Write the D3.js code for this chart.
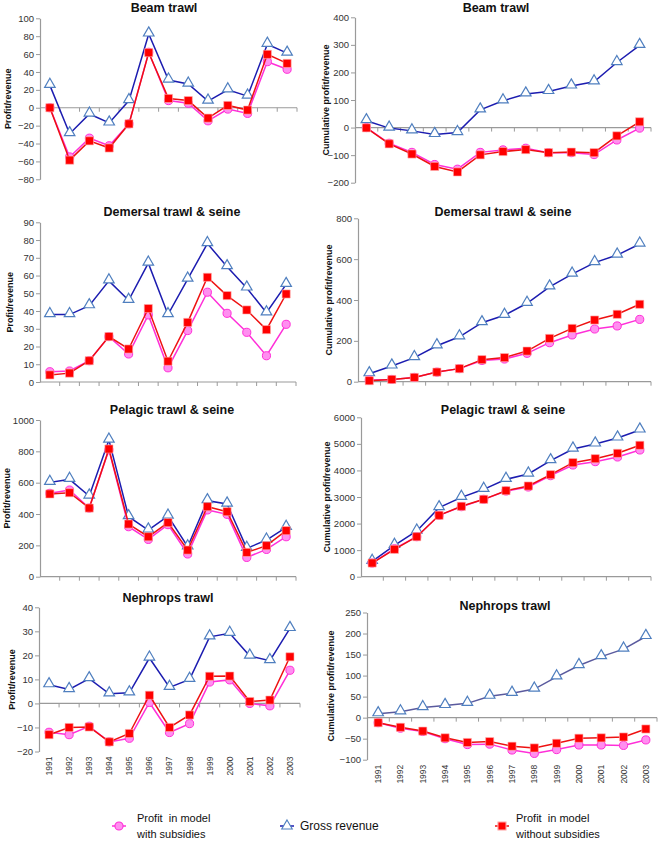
<!DOCTYPE html>
<html>
<head>
<meta charset="utf-8">
<script src="https://cdn.jsdelivr.net/npm/d3@7/dist/d3.min.js"></script>
<style>
  html, body { margin: 0; padding: 0; background: #fff; }
  svg { display: block; font-family: "Liberation Sans", Arial, sans-serif; }
  .leg text { white-space: pre; }
</style>
</head>
<body>
<svg id="chart" width="662" height="845"></svg>
<script>
// ---------------- DATA ----------------
const years = ["1991","1992","1993","1994","1995","1996","1997","1998","1999","2000","2001","2002","2003"];

const beamAnnualWith    = [0, -55, -34, -42.5, -18, 62, 8, 5, -14.6, -1.5, -6.3, 51.5, 43];
const beamAnnualGross   = [25, -29, -7, -17, 8, 82.5, 31, 26.5, 7.5, 20, 13, 71, 61];
const beamAnnualWithout = [0, -58.6, -37, -45, -18, 61.6, 10.4, 8, -11.6, 2.6, -2.6, 59.7, 49.6];

const beamCumWith    = [0, -57, -90, -134, -151, -90, -81, -75, -91, -91, -98, -45, -2];
const beamCumGross   = [25, -2, -12, -25, -18, 64, 97, 122, 131, 151, 166, 236, 298];
const beamCumWithout = [-1, -59, -96, -141, -161, -99, -87, -80, -91, -89, -91, -30, 21];

const demAnnualWith    = [5.8, 6.2, 12, 25.6, 15.8, 37.8, 8, 29, 50.6, 38.7, 28, 14.8, 32.5];
const demAnnualGross   = [38, 38, 43, 57, 46, 67, 38, 58, 78, 65, 53, 39, 55];
const demAnnualWithout = [4, 5, 12, 25.6, 18.6, 41.4, 11.7, 33.6, 59, 48.7, 40.6, 29.5, 49.6];

const demCumWith    = [8, 11, 21, 47, 64, 104, 111, 139, 191, 229, 258, 273, 305];
const demCumGross   = [39, 77, 118, 176, 220, 289, 325, 384, 464, 527, 583, 620, 674];
const demCumWithout = [5, 11, 21, 47, 64, 108, 118, 150, 212, 261, 302, 330, 379];

const pelAnnualWith    = [532, 553, 438, 810, 319, 238, 332, 145, 426, 398, 123, 174, 255];
const pelAnnualGross   = [602, 621, 515, 872, 383, 298, 387, 191, 485, 464, 181, 234, 315];
const pelAnnualWithout = [528, 536, 438, 815, 336, 255, 345, 170, 447, 415, 155, 198, 294];

const pelCumWith    = [515, 1054, 1506, 2310, 2636, 2912, 3226, 3377, 3803, 4205, 4331, 4506, 4770];
const pelCumGross   = [578, 1180, 1720, 2598, 2987, 3289, 3665, 3866, 4368, 4807, 4996, 5222, 5523];
const pelCumWithout = [515, 1030, 1506, 2310, 2649, 2912, 3238, 3414, 3841, 4293, 4443, 4644, 4946];

const nepAnnualWith    = [-12, -13, -9.5, -16, -14.5, 0.4, -12.1, -8.4, 8.9, 9.8, 0, -1, 13.8];
const nepAnnualGross   = [7.8, 5.8, 10.3, 4, 4.4, 18.9, 6.7, 10, 27.7, 29.2, 19.7, 17.8, 31.2];
const nepAnnualWithout = [-13, -10, -9.8, -16, -12.5, 3.4, -10, -4.8, 11.3, 11.4, 0.8, 1.4, 19.4];

const nepCumWith    = [-12, -25, -33, -50, -64, -63, -77, -85, -76, -65, -65, -66, -53];
const nepCumGross   = [9.4, 14, 24, 29, 34, 51, 58, 68, 97, 124, 145, 163, 193];
const nepCumWithout = [-12, -23, -32, -48, -59, -57, -68, -72, -61, -49, -48, -46, -27];

const beamAnnualTicks = [-80, -60, -40, -20, 0, 20, 40, 60, 80, 100];
const beamCumTicks    = [-200, -100, 0, 100, 200, 300, 400];
const demAnnualTicks  = [0, 10, 20, 30, 40, 50, 60, 70, 80, 90];
const demCumTicks     = [0, 200, 400, 600, 800];
const pelAnnualTicks  = [0, 200, 400, 600, 800, 1000];
const pelCumTicks     = [0, 1000, 2000, 3000, 4000, 5000, 6000];
const nepAnnualTicks  = [-20, -10, 0, 10, 20, 30, 40];
const nepCumTicks     = [-100, -50, 0, 50, 100, 150, 200, 250];

const titles = ["Beam trawl", "Demersal trawl & seine", "Pelagic trawl & seine", "Nephrops trawl"];
const yLabelAnnual = "Profit/revenue";
const yLabelCum = "Cumulative profit/revenue";
const legendWith = ["Profit  in model", "with subsidies"];
const legendGross = ["Gross revenue"];
const legendWithout = ["Profit  in model", "without subsidies"];

// ---------------- STYLE ----------------
const COL_GROSS = "#1c1cb0";
const COL_TRI = "#4f7fbf";
const COL_WITH = "#ff2fd8";
const COL_WITH_FILL = "#ff8ff0";
const COL_WITHOUT = "#ee1111";
const COL_SQ = "#ff0000";
const AXIS = "#9a9a9a";

// ---------------- PANELS (layout) ----------------
const panels = [
  {title: titles[0], ylab: yLabelAnnual, ticks: beamAnnualTicks, s: [beamAnnualWith, beamAnnualGross, beamAnnualWithout],
   x0: 40, x1: 297, yTop: 18.3, yBot: 179.3, titleX: 164, titleY: 8, labX: 8, years: false},
  {title: titles[0], ylab: yLabelCum, ticks: beamCumTicks, s: [beamCumWith, beamCumGross, beamCumWithout],
   x0: 355, x1: 651, yTop: 17.3, yBot: 182.7, titleX: 496, titleY: 8, labX: 326, years: false},
  {title: titles[1], ylab: yLabelAnnual, ticks: demAnnualTicks, s: [demAnnualWith, demAnnualGross, demAnnualWithout],
   x0: 40, x1: 296, yTop: 222.3, yBot: 382, titleX: 172, titleY: 211.7, labX: 10, years: false},
  {title: titles[1], ylab: yLabelCum, ticks: demCumTicks, s: [demCumWith, demCumGross, demCumWithout],
   x0: 358, x1: 651, yTop: 218.3, yBot: 381.7, titleX: 503, titleY: 211.7, labX: 329, years: false},
  {title: titles[2], ylab: yLabelAnnual, ticks: pelAnnualTicks, s: [pelAnnualWith, pelAnnualGross, pelAnnualWithout],
   x0: 40, x1: 296, yTop: 420, yBot: 576.7, titleX: 172, titleY: 410, labX: 7, years: false},
  {title: titles[2], ylab: yLabelCum, ticks: pelCumTicks, s: [pelCumWith, pelCumGross, pelCumWithout],
   x0: 361, x1: 651, yTop: 417.3, yBot: 576.7, titleX: 503, titleY: 410, labX: 327, years: false},
  {title: titles[3], ylab: yLabelAnnual, ticks: nepAnnualTicks, s: [nepAnnualWith, nepAnnualGross, nepAnnualWithout],
   x0: 39, x1: 300, yTop: 607.3, yBot: 751.5, titleX: 168, titleY: 597.7, labX: 12, years: true},
  {title: titles[3], ylab: yLabelCum, ticks: nepCumTicks, s: [nepCumWith, nepCumGross, nepCumWithout],
   x0: 367, x1: 657, yTop: 612.5, yBot: 759.7, titleX: 505, titleY: 605.7, labX: 331, years: true, grossCol: "#5a5a9e"}
];

const svg = d3.select("#chart");

const symTri = d3.symbol().type(d3.symbolTriangle).size(48);
const symSq = d3.symbol().type(d3.symbolSquare).size(66);
const symCir = d3.symbol().type(d3.symbolCircle).size(52);

panels.forEach(p => {
  const g = svg.append("g");
  const x = d3.scaleBand().domain(years).range([p.x0, p.x1]).padding(0);
  const y = d3.scaleLinear().domain([p.ticks[0], p.ticks[p.ticks.length - 1]]).range([p.yBot, p.yTop]);
  const cx = d => x(d) + x.bandwidth() / 2;

  // title
  g.append("text").attr("x", p.titleX).attr("y", p.titleY).attr("dy", "0.35em")
    .attr("text-anchor", "middle").attr("font-weight", "bold").attr("font-size", 12.5)
    .attr("fill", "#111").text(p.title);

  // y label
  g.append("text")
    .attr("transform", `translate(${p.labX},${(p.yTop + p.yBot) / 2}) rotate(-90)`)
    .attr("text-anchor", "middle").attr("dy", "0.35em")
    .attr("font-weight", "bold").attr("font-size", 9).attr("fill", "#111").text(p.ylab);

  // y axis
  const ya = g.append("g").attr("transform", `translate(${p.x0},0)`)
    .call(d3.axisLeft(y).tickValues(p.ticks).tickSize(4).tickSizeOuter(0).tickPadding(2).tickFormat(d3.format("d")));
  ya.select(".domain").attr("stroke", AXIS).attr("stroke-width", 1.2);
  ya.selectAll(".tick line").attr("stroke", AXIS);
  ya.selectAll(".tick text").attr("font-size", 9.5).attr("fill", "#333")
    .attr("font-family", "'Liberation Sans', Arial, sans-serif");

  // x axis line at zero
  const y0 = y(0);
  g.append("line").attr("x1", p.x0).attr("x2", p.x1).attr("y1", y0).attr("y2", y0)
    .attr("stroke", AXIS).attr("stroke-width", 1.2);
  g.selectAll(".xtick").data(years).join("line")
    .attr("x1", d => x(d) + x.bandwidth()).attr("x2", d => x(d) + x.bandwidth())
    .attr("y1", y0).attr("y2", y0 + 4).attr("stroke", AXIS);

  // year labels
  if (p.years) {
    const xa = g.append("g").attr("transform", `translate(0,${p.yBot})`)
      .call(d3.axisBottom(x).tickSize(0).tickPadding(0));
    xa.select(".domain").remove();
    xa.selectAll(".tick text")
      .attr("transform", "rotate(-90)")
      .attr("text-anchor", "end").attr("x", -5).attr("y", 0).attr("dy", "0.35em")
      .attr("font-size", 8.5).attr("fill", "#333")
      .attr("font-family", "'Liberation Sans', Arial, sans-serif");
  }

  const line = d3.line().x((d, i) => cx(years[i])).y(d => y(d));
  const [sWith, sGross, sWithout] = p.s;

  // gross
  g.append("path").datum(sGross).attr("d", line).attr("fill", "none")
    .attr("stroke", p.grossCol || COL_GROSS).attr("stroke-width", 1.5);
  g.selectAll(".tri").data(sGross).join("path")
    .attr("d", symTri).attr("transform", (d, i) => `translate(${cx(years[i])},${y(d) - 1})`)
    .attr("fill", "#fff").attr("stroke", COL_TRI).attr("stroke-width", 1.2);

  // with subsidies
  g.append("path").datum(sWith).attr("d", line).attr("fill", "none")
    .attr("stroke", COL_WITH).attr("stroke-width", 1.5);
  g.selectAll(".cir").data(sWith).join("path")
    .attr("d", symCir).attr("transform", (d, i) => `translate(${cx(years[i])},${y(d)})`)
    .attr("fill", COL_WITH_FILL).attr("stroke", COL_WITH).attr("stroke-width", 1);

  // without subsidies
  g.append("path").datum(sWithout).attr("d", line).attr("fill", "none")
    .attr("stroke", COL_WITHOUT).attr("stroke-width", 1.5);
  g.selectAll(".sq").data(sWithout).join("path")
    .attr("d", symSq).attr("transform", (d, i) => `translate(${cx(years[i])},${y(d)})`)
    .attr("fill", COL_SQ).attr("stroke", "#ffb0b0").attr("stroke-width", 0.6);
});

// ---------------- LEGEND ----------------
const legend = svg.append("g").attr("class", "leg").attr("font-size", 11).attr("fill", "#111");
const legItems = [
  {lx: 119, tx: 137, text: legendWith, col: COL_WITH, sym: symCir, fill: COL_WITH_FILL, stroke: COL_WITH},
  {lx: 287, tx: 300, text: legendGross, col: COL_GROSS, sym: symTri, fill: "#fff", stroke: COL_TRI, fs: 12},
  {lx: 502, tx: 516, text: legendWithout, col: COL_WITHOUT, sym: symSq, fill: COL_SQ, stroke: "#ffb0b0"}
];
const legY = 826;
legItems.forEach(it => {
  legend.append("line").attr("x1", it.lx - 7).attr("x2", it.lx + 7).attr("y1", legY).attr("y2", legY)
    .attr("stroke", it.col).attr("stroke-width", 1.5);
  legend.append("path").attr("d", it.sym).attr("transform", `translate(${it.lx},${legY})`)
    .attr("fill", it.fill).attr("stroke", it.stroke).attr("stroke-width", 1.1);
  const n = it.text.length;
  it.text.forEach((t, k) => {
    legend.append("text").attr("x", it.tx)
      .attr("font-size", it.fs || 11)
      .attr("y", legY + (k - (n - 1) / 2) * 15.5).attr("dy", "0.35em").text(t);
  });
});
</script>
</body>
</html>
